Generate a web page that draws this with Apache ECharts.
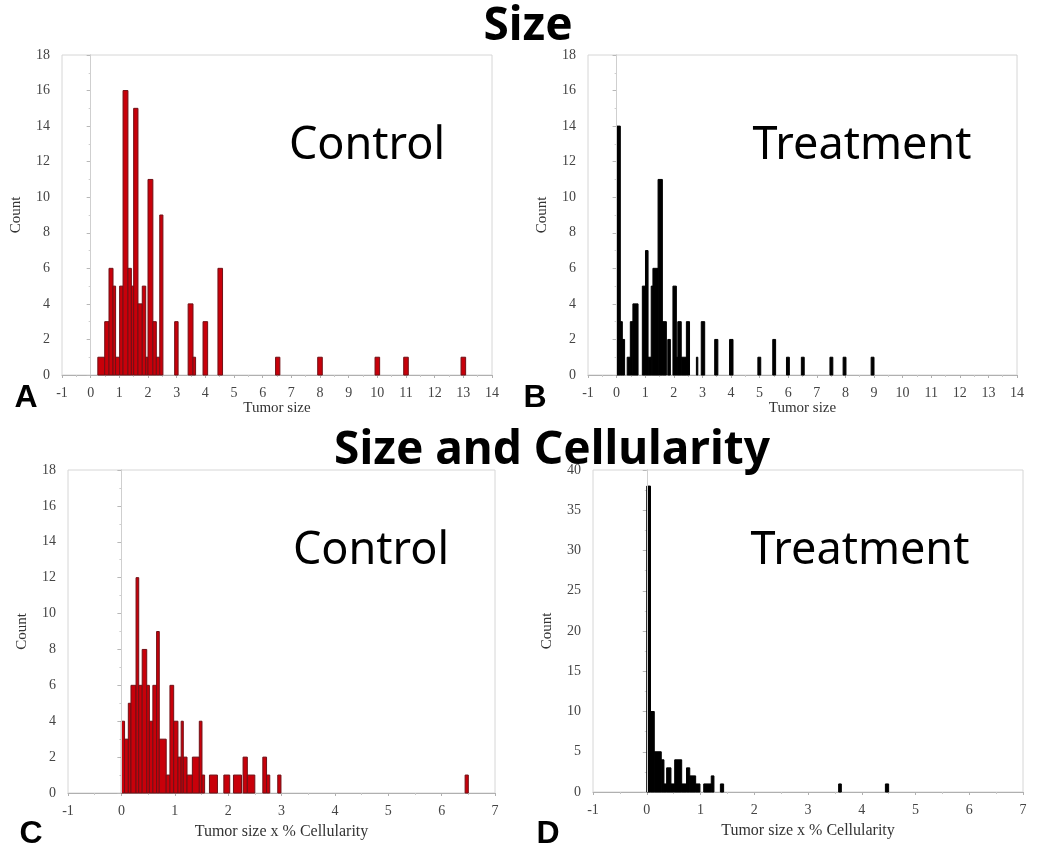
<!DOCTYPE html>
<html>
<head>
<meta charset="utf-8">
<script src="https://cdn.jsdelivr.net/npm/echarts@6/dist/echarts.min.js"></script>
<style>
html,body{margin:0;padding:0;background:#fff;}
#chart{width:1038px;height:851px;}
</style>
</head>
<body>
<div id="chart"></div>
<script>
// Histogram bins: [binStart, binEnd, count]
const sizeControl = [
  [0.25,0.49,1],[0.49,0.64,3],[0.64,0.78,6],[0.78,0.87,5],[0.87,1.01,1],[1.01,1.13,5],
  [1.13,1.30,16],[1.30,1.42,6],[1.42,1.50,5],[1.50,1.65,15],[1.65,1.80,4],[1.80,1.92,5],
  [1.92,2.00,1],[2.00,2.17,11],[2.17,2.29,3],[2.29,2.41,1],[2.41,2.52,9],[2.93,3.05,3],
  [3.40,3.57,4],[3.57,3.66,1],[3.92,4.08,3],[4.44,4.60,6],[6.45,6.60,1],[7.92,8.08,1],
  [9.92,10.08,1],[10.92,11.08,1],[12.92,13.08,1]
];
const sizeTreatment = [
  [0.00,0.13,14],[0.13,0.20,3],[0.20,0.28,2],[0.37,0.48,1],[0.48,0.57,3],[0.57,0.75,4],
  [0.90,1.01,5],[1.01,1.10,7],[1.10,1.21,1],[1.21,1.27,5],[1.27,1.45,6],[1.45,1.60,11],
  [1.60,1.74,3],[1.79,1.88,2],[1.97,2.09,5],[2.09,2.14,1],[2.14,2.26,3],[2.26,2.44,1],
  [2.44,2.55,3],[2.79,2.84,1],[2.96,3.08,3],[3.43,3.54,2],[3.95,4.07,2],[4.94,5.04,1],
  [5.46,5.56,2],[5.94,6.04,1],[6.46,6.56,1],[7.46,7.56,1],[7.92,8.02,1],[8.90,9.00,1]
];
const cellControl = [
  [0.00,0.06,4],[0.06,0.13,3],[0.13,0.18,5],[0.18,0.275,6],[0.275,0.325,12],[0.325,0.39,6],
  [0.39,0.475,8],[0.475,0.525,6],[0.525,0.59,4],[0.59,0.66,6],[0.66,0.71,9],[0.71,0.84,3],
  [0.84,0.91,1],[0.91,0.98,6],[0.98,1.06,4],[1.06,1.12,2],[1.12,1.16,4],[1.16,1.23,2],
  [1.23,1.33,1],[1.33,1.46,2],[1.46,1.51,4],[1.51,1.56,1],[1.65,1.80,1],[1.92,2.03,1],
  [2.10,2.25,1],[2.28,2.36,2],[2.36,2.50,1],[2.65,2.72,2],[2.72,2.78,1],[2.93,2.99,1],
  [6.44,6.50,1]
];
const cellTreatment = [
  [0.00,0.07,38],[0.07,0.14,10],[0.14,0.27,5],[0.27,0.32,4],[0.32,0.37,1],[0.37,0.45,3],
  [0.45,0.52,1],[0.52,0.65,4],[0.65,0.74,1],[0.74,0.80,3],[0.80,0.91,2],[0.91,0.99,1],
  [1.06,1.20,1],[1.20,1.25,2],[1.37,1.43,1],[3.57,3.62,1],[4.44,4.50,1]
];
const titles = ['Size', 'Size and Cellularity'];
const groupLabels = ['Control', 'Treatment'];
const panelLetters = ['A', 'B', 'C', 'D'];
const xNames = ['Tumor size', 'Tumor size x % Cellularity'];
const yName = 'Count';

const RED = '#c8000a', RED_EDGE = '#701016', BLACK = '#000', BLACK_EDGE = '#000';
const serif = '"Liberation Serif", "DejaVu Serif", serif';

const grids = [
  {left: 62, top: 55, width: 430, height: 320},
  {left: 588, top: 55, width: 429, height: 320},
  {left: 68, top: 470, width: 427, height: 323},
  {left: 593, top: 470, width: 430, height: 322}
];
const xRanges = [[-1,14,1],[-1,14,1],[-1,7,1],[-1,7,1]];
const yRanges = [[0,18,2],[0,18,2],[0,18,2],[0,40,5]];
const datasets = [sizeControl, sizeTreatment, cellControl, cellTreatment];
const fills = [RED, BLACK, RED, BLACK];
const edges = [RED_EDGE, BLACK_EDGE, RED_EDGE, BLACK_EDGE];
const xNameGap = [26, 26, 31, 31];
const xNameSize = [15, 15, 16, 16];

const option = {
  backgroundColor: '#fff',
  animation: false,
  grid: grids.map(g => Object.assign({show: true, borderColor: '#d6d6d6', borderWidth: 1, backgroundColor: 'transparent'}, g)),
  xAxis: grids.map((g, i) => ({
    type: 'value', gridIndex: i,
    min: xRanges[i][0], max: xRanges[i][1], interval: xRanges[i][2],
    name: xNames[i < 2 ? 0 : 1], nameLocation: 'middle', nameGap: xNameGap[i],
    nameTextStyle: {fontFamily: serif, fontSize: xNameSize[i], color: '#333'},
    axisLine: {show: true, lineStyle: {color: '#b0b0b0', width: 1}},
    axisTick: {show: true, length: 3, lineStyle: {color: '#b0b0b0'}},
    minorTick: {show: true, splitNumber: 2, length: 2, lineStyle: {color: '#c8c8c8'}},
    axisLabel: {fontFamily: serif, fontSize: 14, color: '#444', margin: 11},
    splitLine: {show: false}
  })),
  yAxis: grids.map((g, i) => ({
    type: 'value', gridIndex: i,
    min: yRanges[i][0], max: yRanges[i][1], interval: yRanges[i][2],
    name: yName, nameLocation: 'middle', nameRotate: 90, nameGap: 38,
    nameTextStyle: {fontFamily: serif, fontSize: 15, color: '#333'},
    axisLine: {show: true, lineStyle: {color: '#c0c0c0', width: 1}},
    axisTick: {show: true, length: 4, lineStyle: {color: '#b8b8b8'}},
    minorTick: {show: true, splitNumber: 2, length: 2, lineStyle: {color: '#cfcfcf'}},
    axisLabel: {fontFamily: serif, fontSize: 14, color: '#444', margin: 12},
    splitLine: {show: false}
  })),
  series: datasets.map((d, i) => ({
    type: 'custom',
    xAxisIndex: i, yAxisIndex: i,
    data: d,
    encode: {x: [0, 1], y: 2},
    renderItem: function (params, api) {
      const p0 = api.coord([api.value(0), api.value(2)]);
      const p1 = api.coord([api.value(1), 0]);
      return {
        type: 'rect',
        shape: {x: p0[0], y: p0[1], width: p1[0] - p0[0], height: p1[1] - p0[1]},
        style: {fill: fills[i], stroke: edges[i], lineWidth: 1}
      };
    },
    markLine: {
      silent: true, symbol: 'none', label: {show: false},
      lineStyle: {color: '#cfcfcf', type: 'solid', width: 1},
      data: [{xAxis: 0}]
    },
    z: 3
  })),
  graphic: [
    {type: 'text', x: 528, y: 27, style: {text: titles[0], font: 'bold 46px "Noto Sans", sans-serif', fill: '#000', align: 'center', verticalAlign: 'middle'}, z: 10},
    {type: 'text', x: 552, y: 451, style: {text: titles[1], font: 'bold 46px "Noto Sans", sans-serif', fill: '#000', align: 'center', verticalAlign: 'middle'}, z: 10},
    {type: 'text', x: 367, y: 146, style: {text: groupLabels[0], font: '45px "Noto Sans", sans-serif', fill: '#000', align: 'center', verticalAlign: 'middle'}, z: 10},
    {type: 'text', x: 862, y: 146, style: {text: groupLabels[1], font: '45px "Noto Sans", sans-serif', fill: '#000', align: 'center', verticalAlign: 'middle'}, z: 10},
    {type: 'text', x: 371, y: 551, style: {text: groupLabels[0], font: '45px "Noto Sans", sans-serif', fill: '#000', align: 'center', verticalAlign: 'middle'}, z: 10},
    {type: 'text', x: 860, y: 551, style: {text: groupLabels[1], font: '45px "Noto Sans", sans-serif', fill: '#000', align: 'center', verticalAlign: 'middle'}, z: 10},
    {type: 'text', x: 26, y: 398, style: {text: panelLetters[0], font: 'bold 32px "Liberation Sans", Arial, sans-serif', fill: '#000', align: 'center', verticalAlign: 'middle'}, z: 10},
    {type: 'text', x: 535, y: 398, style: {text: panelLetters[1], font: 'bold 32px "Liberation Sans", Arial, sans-serif', fill: '#000', align: 'center', verticalAlign: 'middle'}, z: 10},
    {type: 'text', x: 31, y: 834, style: {text: panelLetters[2], font: 'bold 32px "Liberation Sans", Arial, sans-serif', fill: '#000', align: 'center', verticalAlign: 'middle'}, z: 10},
    {type: 'text', x: 548, y: 834, style: {text: panelLetters[3], font: 'bold 32px "Liberation Sans", Arial, sans-serif', fill: '#000', align: 'center', verticalAlign: 'middle'}, z: 10}
  ]
};

const chart = echarts.init(document.getElementById('chart'), null, {renderer: 'canvas'});
chart.setOption(option);
</script>
</body>
</html>
